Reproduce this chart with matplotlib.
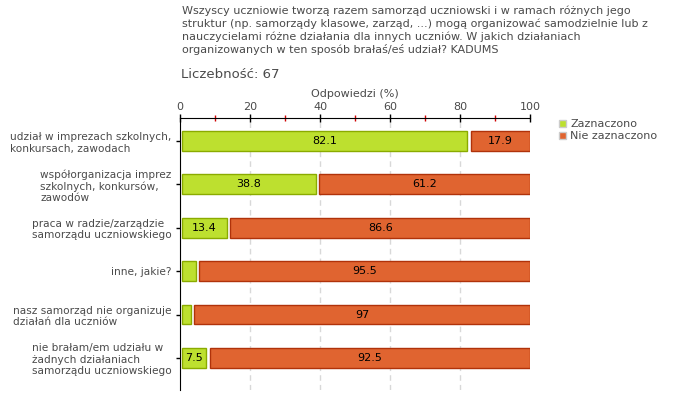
import matplotlib
matplotlib.use("Agg")
import matplotlib.pyplot as plt
from matplotlib.patches import Patch

plt.rcParams['font.family'] = ['DejaVu Sans']

# data
categories = [
    "udział w imprezach szkolnych,\nkonkursach, zawodach",
    "współorganizacja imprez\nszkolnych, konkursów,\nzawodów",
    "praca w radzie/zarządzie\nsamorządu uczniowskiego",
    "inne, jakie?",
    "nasz samorząd nie organizuje\ndziałań dla uczniów",
    "nie brałam/em udziału w\nżadnych działaniach\nsamorządu uczniowskiego",
]
zaznaczono = [82.1, 38.8, 13.4, 4.5, 3.0, 7.5]
nie_zaznaczono = [17.9, 61.2, 86.6, 95.5, 97.0, 92.5]
series_names = ["Zaznaczono", "Nie zaznaczono"]
title = ("Wszyscy uczniowie tworzą razem samorząd uczniowski i w ramach różnych jego\n"
         "struktur (np. samorządy klasowe, zarząd, ...) mogą organizować samodzielnie lub z\n"
         "nauczycielami różne działania dla innych uczniów. W jakich działaniach\n"
         "organizowanych w ten sposób brałaś/eś udział? KADUMS")
count_text = "Liczebność: 67"

green, green_edge = "#bde02f", "#8aab00"
orange, orange_edge = "#e06430", "#b0320a"
txt = "#4a4a4a"

fig = plt.figure(figsize=(6.8, 4.0), dpi=100)
ax = fig.add_axes([180/680, 10/400, 350/680, 272/400])

ypos = list(range(len(categories)))
h = 0.46
gap = 1.0
for y, a, b in zip(ypos, zaznaczono, nie_zaznaczono):
    ax.barh(y, a - 0.6, left=0.6, height=h, color=green, edgecolor=green_edge, linewidth=1)
    ax.barh(y, b - gap, left=a + gap, height=h, color=orange, edgecolor=orange_edge, linewidth=1)
    if a >= 7:
        ax.text(a / 2 + 0.3, y, f"{a:g}", ha="center", va="center", fontsize=8, color="black")
    if b >= 7:
        ax.text(a + gap + (b - gap) / 2, y, f"{b:g}", ha="center", va="center", fontsize=8, color="black")

ax.set_xlim(0, 100)
ax.set_ylim(5.74, -0.53)
ax.xaxis.tick_top()
ax.xaxis.set_label_position("top")
ax.set_xticks([0, 20, 40, 60, 80, 100])
ax.set_xticks([10, 30, 50, 70, 90], minor=True)
ax.tick_params(axis="x", which="major", direction="inout", length=6, width=1, colors="black",
               labelcolor=txt, labelsize=8, pad=1)
ax.tick_params(axis="x", which="minor", direction="inout", length=5, width=1, colors="#d00000")
ax.set_xlabel("Odpowiedzi (%)", fontsize=8, color=txt, labelpad=4)
ax.set_yticks(ypos)
ax.set_yticklabels(categories)
ax.tick_params(axis="y", direction="out", length=3, width=1, colors="black",
               labelcolor=txt, labelsize=7.6, pad=3)
for lab in ax.get_yticklabels():
    lab.set_multialignment("left")
    lab.set_linespacing(1.2)

for x in [20, 40, 60, 80]:
    ax.axvline(x, color="#d8d8d8", linestyle=(0, (4, 3)), linewidth=1, zorder=0)

ax.spines["right"].set_visible(False)
ax.spines["bottom"].set_visible(False)
ax.spines["top"].set_color("black")
ax.spines["left"].set_color("black")

fig.text(182/680, 1 - 6/400, title, ha="left", va="top", fontsize=8, color=txt, linespacing=1.25)
fig.text(181/680, 1 - 74/400, count_text, ha="left", va="center", fontsize=9.5, color=txt)

handles = [Patch(facecolor=green, edgecolor="#cccccc"), Patch(facecolor=orange, edgecolor="#cccccc")]
fig.legend(handles, series_names, loc="upper left", bbox_to_anchor=(559/680, 1 - 119/400),
           frameon=False, fontsize=8, handlelength=0.6, handleheight=0.6, handletextpad=0.4,
           labelspacing=0.2, borderaxespad=0, borderpad=0, labelcolor=txt)

fig.savefig("out.png", dpi=100)
